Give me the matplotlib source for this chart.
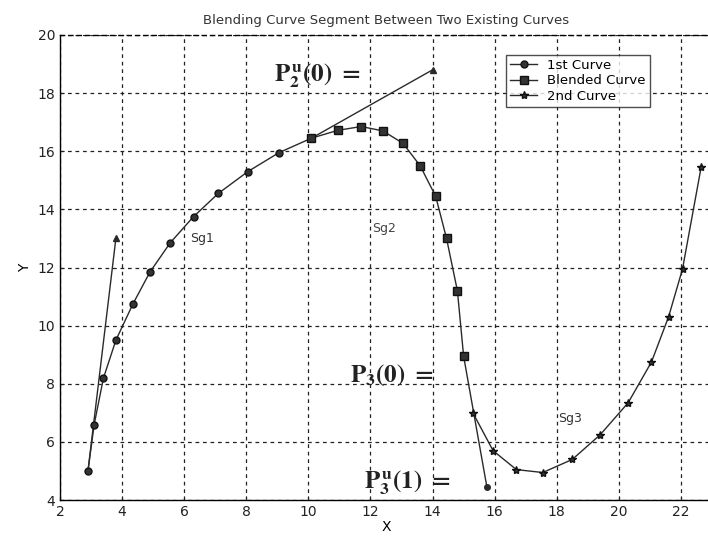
import matplotlib
matplotlib.use("Agg")
import matplotlib.pyplot as plt

plt.rcParams["mathtext.fontset"] = "stix"

# ---- data ----
sg1_x = [2.9, 3.1, 3.4, 3.8, 4.35, 4.9, 5.55, 6.3, 7.1, 8.05, 9.05, 10.1]
sg1_y = [5.0, 6.6, 8.2, 9.5, 10.75, 11.85, 12.85, 13.75, 14.55, 15.3, 15.95, 16.45]

blend_x = [10.1, 10.95, 11.7, 12.4, 13.05, 13.6, 14.1, 14.45, 14.8, 15.0]
blend_y = [16.45, 16.72, 16.85, 16.7, 16.27, 15.5, 14.45, 13.0, 11.2, 8.95]

sg3_x = [15.3, 15.95, 16.7, 17.55, 18.5, 19.4, 20.3, 21.05, 21.6, 22.05, 22.65]
sg3_y = [7.0, 5.7, 5.05, 4.95, 5.4, 6.25, 7.35, 8.75, 10.3, 11.95, 15.45]

tan1_x = [2.9, 3.8]
tan1_y = [5.0, 13.0]
tan2_x = [10.1, 14.0]
tan2_y = [16.45, 18.8]
tan3_x = [15.0, 15.75]
tan3_y = [8.95, 4.45]

xticks = [2, 4, 6, 8, 10, 12, 14, 16, 18, 20, 22]
yticks = [4, 6, 8, 10, 12, 14, 16, 18, 20]

title = "Blending Curve Segment Between Two Existing Curves"
legend_labels = ["1st Curve", "Blended Curve", "2nd Curve"]

# ---- figure ----
fig = plt.figure(figsize=(7.08, 5.46), dpi=100)
ax = fig.add_axes([60 / 708, 0.084, 652 / 708, 0.852])

lc = "#2a2a2a"
ax.plot(sg1_x, sg1_y, "-o", color=lc, lw=1.0, ms=5, mfc="#333333", mec="#111111",
        label=legend_labels[0], zorder=3)
ax.plot(blend_x, blend_y, "-s", color=lc, lw=1.0, ms=5.5, mfc="#333333", mec="#111111",
        label=legend_labels[1], zorder=3)
ax.plot(sg3_x, sg3_y, "-*", color=lc, lw=1.0, ms=6, mfc="#333333", mec="#111111",
        label=legend_labels[2], zorder=3)

# tangent lines
ax.plot(tan1_x, tan1_y, "-", color=lc, lw=1.0, zorder=2)
ax.plot(tan1_x[-1:], tan1_y[-1:], "^", color=lc, ms=5, zorder=2)
ax.plot(tan2_x, tan2_y, "-", color=lc, lw=1.0, zorder=2)
ax.plot(tan2_x[-1:], tan2_y[-1:], "^", color=lc, ms=4, zorder=2)
ax.plot(tan3_x, tan3_y, "-", color=lc, lw=1.0, zorder=2)
ax.plot(tan3_x[-1:], tan3_y[-1:], "o", color=lc, ms=4, zorder=2)

# annotations
ax.text(6.2, 13.0, "Sg1", fontsize=9, color="#333333", va="center")
ax.text(12.05, 13.35, "Sg2", fontsize=9, color="#444444", va="center")
ax.text(18.05, 6.8, "Sg3", fontsize=9, color="#333333", va="center")
ax.text(8.9, 18.6, r"$\mathbf{P}_{\mathbf{2}}^{\,\mathbf{u}}\mathbf{(0)\ =}$", fontsize=18,
        color="#222222", va="center")
ax.text(11.35, 8.3, r"$\mathbf{P}_{\mathbf{3}}\mathbf{(0)\ =}$", fontsize=18,
        color="#222222", va="center")
ax.text(11.8, 4.1, r"$\mathbf{P}_{\mathbf{3}}^{\,\mathbf{u}}\mathbf{(1)\ =}$", fontsize=18,
        color="#222222", va="bottom")

ax.set_xlim(2, 23)
ax.set_ylim(4, 20)
ax.set_xticks(xticks)
ax.set_yticks(yticks)
ax.tick_params(labelsize=10, direction="in", length=3, colors="#222222")
ax.grid(True, color="#222222", linestyle=(0, (3, 3)), linewidth=0.9)
for s in ["left", "bottom", "top"]:
    ax.spines[s].set_linewidth(1.0)
ax.spines["right"].set_visible(False)
ax.spines["top"].set_linestyle((0, (3, 3)))

ax.set_title(title, fontsize=9.5, color="#333333", pad=8)
ax.set_xlabel("X", fontsize=10, labelpad=1)
ax.set_ylabel("Y", fontsize=10, labelpad=4)

leg = ax.legend(loc="upper right", bbox_to_anchor=(0.927, 0.912),
                bbox_transform=fig.transFigure, fontsize=9.5, frameon=True,
                fancybox=False, edgecolor="#222222", handlelength=2.0,
                borderpad=0.3, labelspacing=0.2)
leg.get_frame().set_linewidth(1.0)

fig.savefig("out.png", dpi=100)
